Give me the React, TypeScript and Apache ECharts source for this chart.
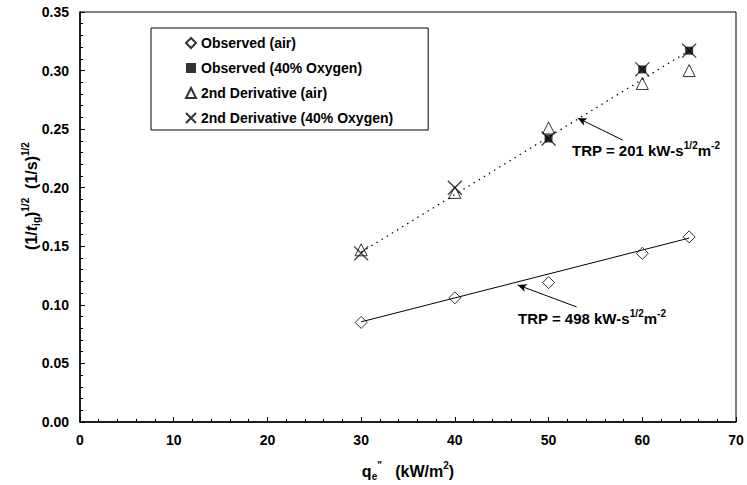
import React, { useEffect, useRef } from "react";
import * as echarts from "echarts";

const FONT = '"Liberation Sans", Arial, Helvetica, sans-serif';

// heat flux (kW/m2)
const xAll = [30, 40, 50, 60, 65];
const xOxyObserved = [50, 60, 65];
// (1/t_ig)^1/2
const observedAir = [0.085, 0.106, 0.119, 0.144, 0.158];
const observedOxy = [0.242, 0.301, 0.317];
const derivativeAir = [0.147, 0.196, 0.251, 0.289, 0.3];
const derivativeOxy = [0.144, 0.2, 0.242, 0.301, 0.317];
// linear fits
const fitX = [30, 65];
const fitAir = [0.0855, 0.157];
const fitOxy = [0.145, 0.317];
// annotation arrows [x1, y1, x2, y2] in data units (tail -> head)
const arrowOxy = [57.9, 0.2407, 53.1, 0.2595];
const arrowAir = [53.0, 0.0982, 46.7, 0.117];

const seriesNames = [
  "Observed (air)",
  "Observed (40% Oxygen)",
  "2nd Derivative (air)",
  "2nd Derivative (40% Oxygen)",
];

const pair = (xs: number[], ys: number[]) => xs.map((x, i) => [x, ys[i]]);

const makeRich = (size: number, supSize: number) => ({
  b: { fontSize: size, fontWeight: "bold", fontFamily: FONT, color: "#000", lineHeight: size + 5 },
  it: { fontSize: size, fontWeight: "bold", fontStyle: "italic", fontFamily: FONT, color: "#000", lineHeight: size + 5 },
  sup: { fontSize: supSize, fontWeight: "bold", fontFamily: FONT, color: "#000", lineHeight: supSize + 1, verticalAlign: "top" },
  sub: { fontSize: supSize, fontWeight: "bold", fontFamily: FONT, color: "#000", lineHeight: supSize + 1, verticalAlign: "bottom" },
});

export default function App() {
  const ref = useRef<HTMLDivElement>(null);
  useEffect(() => {
    if (!ref.current) return;
    const chart = echarts.init(ref.current, undefined, { renderer: "svg" });
    const hollow = { color: "transparent", borderColor: "#000", borderWidth: 1 };
    const titleRich = makeRich(16, 10);
    const noteRich = makeRich(15, 10);
    chart.setOption({
      animation: false,
      backgroundColor: "#fff",
      grid: {
        left: 80,
        right: 11,
        top: 12,
        bottom: 63,
        show: true,
        borderColor: "#000",
        borderWidth: 1,
      },
      legend: {
        data: seriesNames,
        orient: "vertical",
        left: 151,
        top: 28,
        padding: [7, 35, 4, 34],
        itemGap: 9,
        itemWidth: 10,
        itemHeight: 10,
        borderColor: "#000",
        borderWidth: 1,
        selectedMode: false,
        textStyle: { fontSize: 14, fontWeight: "bold", fontFamily: FONT, color: "#000", lineHeight: 16 },
      },
      xAxis: {
        type: "value",
        min: 0,
        max: 70,
        interval: 10,
        axisLine: { lineStyle: { color: "#000", width: 1.5 } },
        axisTick: { inside: true, length: 5, lineStyle: { color: "#000" } },
        minorTick: { show: true, splitNumber: 5, length: 3, lineStyle: { color: "#000" } },
        splitLine: { show: false },
        axisLabel: { fontSize: 14, fontWeight: "bold", fontFamily: FONT, color: "#000", margin: 11 },
      },
      yAxis: {
        type: "value",
        min: 0,
        max: 0.35,
        interval: 0.05,
        axisLine: { lineStyle: { color: "#000", width: 1.5 } },
        axisTick: { inside: true, length: 5, lineStyle: { color: "#000" } },
        minorTick: { show: true, splitNumber: 5, length: 3, lineStyle: { color: "#000" } },
        splitLine: { show: false },
        axisLabel: {
          fontSize: 14,
          fontWeight: "bold",
          fontFamily: FONT,
          color: "#000",
          margin: 11,
          formatter: (v: number) => v.toFixed(2),
        },
      },
      series: [
        {
          type: "line",
          data: pair(fitX, fitAir),
          symbol: "none",
          lineStyle: { color: "#000", width: 1 },
          silent: true,
          markLine: {
            silent: true,
            symbol: ["none", "arrow"],
            symbolSize: [6, 9],
            lineStyle: { color: "#000", width: 1, type: "solid" },
            label: { show: false },
            data: [
              [
                { coord: [arrowAir[0], arrowAir[1]] },
                { coord: [arrowAir[2], arrowAir[3]] },
              ],
              [
                { coord: [arrowOxy[0], arrowOxy[1]] },
                { coord: [arrowOxy[2], arrowOxy[3]] },
              ],
            ],
          },
        },
        {
          type: "line",
          data: pair(fitX, fitOxy),
          symbol: "none",
          lineStyle: { color: "#000", width: 1.2, type: [1.5, 4.5] },
          silent: true,
        },
        {
          name: seriesNames[0],
          type: "scatter",
          symbol: "diamond",
          symbolSize: [12, 12],
          itemStyle: hollow,
          data: pair(xAll, observedAir),
        },
        {
          name: seriesNames[2],
          type: "scatter",
          symbol: "triangle",
          symbolSize: [12, 12],
          itemStyle: hollow,
          data: pair(xAll, derivativeAir),
        },
        {
          name: seriesNames[1],
          type: "scatter",
          symbol: "rect",
          symbolSize: 8,
          itemStyle: { color: "#000" },
          data: pair(xOxyObserved, observedOxy),
        },
        {
          name: seriesNames[3],
          type: "scatter",
          symbol: "path://M0,0L10,10M10,0L0,10",
          symbolSize: 14,
          itemStyle: { color: "transparent", borderColor: "#000", borderWidth: 1.2 },
          data: pair(xAll, derivativeOxy),
        },
      ],
      graphic: [
        {
          type: "text",
          x: 31,
          y: 196,
          rotation: Math.PI / 2,
          style: {
            text: "{b|(1/}{it|t}{sub|ig}{b|)}{sup|1/2}{b|  (1/s)}{sup|1/2}",
            rich: titleRich,
            align: "center",
            verticalAlign: "middle",
          },
        },
        {
          type: "text",
          x: 408,
          y: 471,
          style: {
            text: "{b|q}{sub|e}{sup|\"}{b|   (kW/m}{sup|2}{b|)}",
            rich: titleRich,
            align: "center",
            verticalAlign: "middle",
          },
        },
        {
          type: "text",
          x: 572,
          y: 150,
          style: {
            text: "{b|TRP = 201 kW-s}{sup|1/2}{b|m}{sup|-2}",
            rich: noteRich,
            align: "left",
            verticalAlign: "middle",
          },
        },
        {
          type: "text",
          x: 518,
          y: 318,
          style: {
            text: "{b|TRP = 498 kW-s}{sup|1/2}{b|m}{sup|-2}",
            rich: noteRich,
            align: "left",
            verticalAlign: "middle",
          },
        },
      ],
    });
    return () => chart.dispose();
  }, []);
  return <div ref={ref} style={{ width: 747, height: 485, position: "absolute", left: 0, top: 0 }} />;
}
